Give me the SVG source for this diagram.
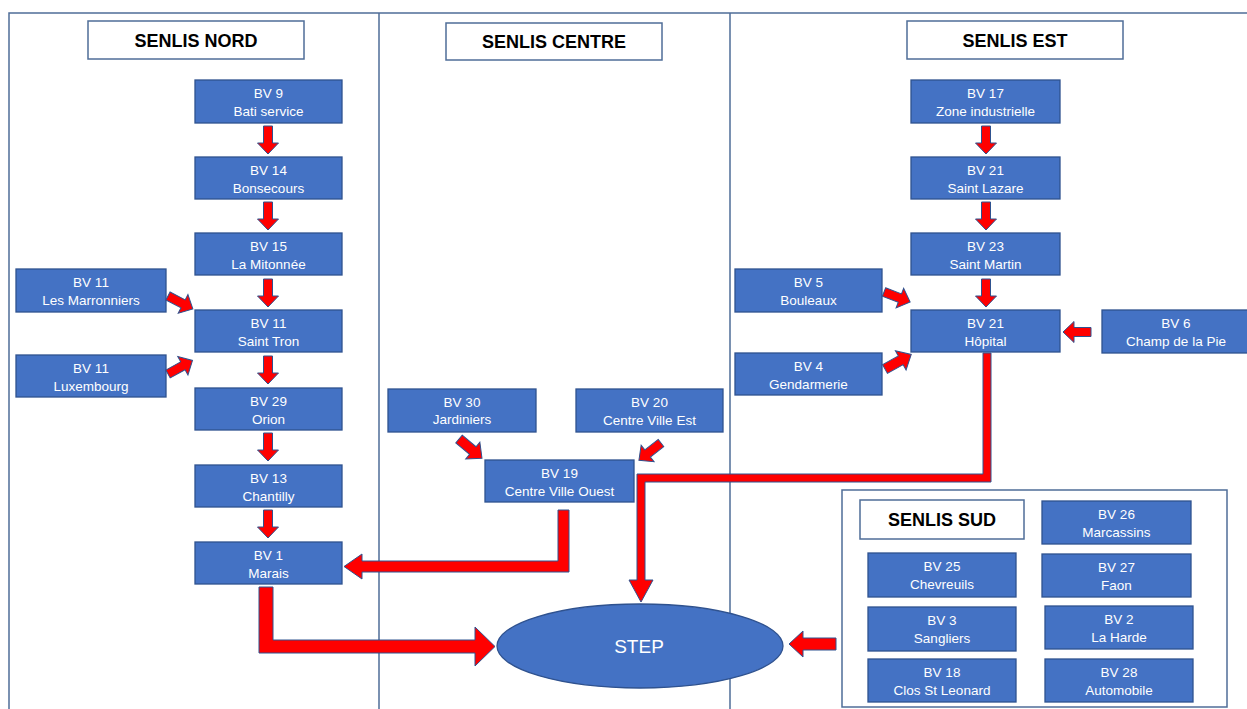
<svg xmlns="http://www.w3.org/2000/svg" width="1247" height="709" viewBox="0 0 1247 709">
<style>
.frame{fill:none;stroke:#4F6D98;stroke-width:1.5}
.hdr rect{fill:#fff;stroke:#4F6D98;stroke-width:1.5}
.hdr text{font-family:"Liberation Sans",Arial,sans-serif;font-weight:bold;font-size:18px;fill:#000;text-anchor:middle}
.bv rect{fill:#4472C4;stroke:#2F528F;stroke-width:1.3}
.bv text{font-family:"Liberation Sans",Arial,sans-serif;font-size:13.5px;fill:#fff;text-anchor:middle}
.arr{fill:#FF0000;stroke:#2F528F;stroke-width:1}
.step{fill:#4472C4;stroke:#2F528F;stroke-width:1.3}
.steptxt{font-family:"Liberation Sans",Arial,sans-serif;font-size:19px;fill:#fff;text-anchor:middle}
</style>
<defs>
<path id="a28" d="M0,-4.5 L17,-4.5 L17,-10.5 L28,0 L17,10.5 L17,4.5 L0,4.5 Z"/>
<path id="a30" d="M0,-5 L18,-5 L18,-11 L30,0 L18,11 L18,5 L0,5 Z"/>
</defs>
<rect width="1247" height="709" fill="#fff"/>
<g id="frame">
<path class="frame" d="M9,709 L9,13 L1247,13 M379,13 L379,709 M730,13 L730,709"/>
<rect class="frame" x="842" y="490" width="385" height="217"/>
</g>
<g id="h-nord" class="hdr"><rect x="88" y="21" width="216" height="38"/><text x="196" y="47">SENLIS NORD</text></g>
<g id="h-centre" class="hdr"><rect x="446" y="23" width="216" height="37"/><text x="554" y="48">SENLIS CENTRE</text></g>
<g id="h-est" class="hdr"><rect x="907" y="21" width="216" height="38"/><text x="1015" y="47">SENLIS EST</text></g>
<g id="h-sud" class="hdr"><rect x="860" y="500" width="164" height="39"/><text x="942" y="526">SENLIS SUD</text></g>

<g id="bv9" class="bv"><rect x="195" y="80" width="147" height="43"/><text x="268.5" y="98">BV 9</text><text x="268.5" y="116">Bati service</text></g>
<g id="bv14" class="bv"><rect x="195" y="157" width="147" height="42"/><text x="268.5" y="175">BV 14</text><text x="268.5" y="193">Bonsecours</text></g>
<g id="bv15" class="bv"><rect x="195" y="233" width="147" height="42"/><text x="268.5" y="251">BV 15</text><text x="268.5" y="269">La Mitonnée</text></g>
<g id="bv11st" class="bv"><rect x="195" y="310" width="147" height="42"/><text x="268.5" y="328">BV 11</text><text x="268.5" y="346">Saint Tron</text></g>
<g id="bv29" class="bv"><rect x="195" y="388" width="147" height="42"/><text x="268.5" y="406">BV 29</text><text x="268.5" y="424">Orion</text></g>
<g id="bv13" class="bv"><rect x="195" y="465" width="147" height="42"/><text x="268.5" y="483">BV 13</text><text x="268.5" y="501">Chantilly</text></g>
<g id="bv1" class="bv"><rect x="195" y="542" width="147" height="42"/><text x="268.5" y="560">BV 1</text><text x="268.5" y="578">Marais</text></g>
<g id="bv11m" class="bv"><rect x="16" y="269" width="150" height="43"/><text x="91" y="287">BV 11</text><text x="91" y="305">Les Marronniers</text></g>
<g id="bv11l" class="bv"><rect x="16" y="355" width="150" height="42"/><text x="91" y="373">BV 11</text><text x="91" y="391">Luxembourg</text></g>

<g id="bv30" class="bv"><rect x="388" y="389" width="148" height="43"/><text x="462" y="407">BV 30</text><text x="462" y="424">Jardiniers</text></g>
<g id="bv20" class="bv"><rect x="576" y="389" width="147" height="43"/><text x="649.5" y="407">BV 20</text><text x="649.5" y="425">Centre Ville Est</text></g>
<g id="bv19" class="bv"><rect x="485" y="460" width="149" height="42"/><text x="559.5" y="478">BV 19</text><text x="559.5" y="496">Centre Ville Ouest</text></g>

<g id="bv17" class="bv"><rect x="911" y="80" width="149" height="43"/><text x="985.5" y="98">BV 17</text><text x="985.5" y="116">Zone industrielle</text></g>
<g id="bv21sl" class="bv"><rect x="911" y="157" width="149" height="42"/><text x="985.5" y="175">BV 21</text><text x="985.5" y="193">Saint Lazare</text></g>
<g id="bv23" class="bv"><rect x="911" y="233" width="149" height="42"/><text x="985.5" y="251">BV 23</text><text x="985.5" y="269">Saint Martin</text></g>
<g id="bv21h" class="bv"><rect x="911" y="310" width="149" height="42"/><text x="985.5" y="328">BV 21</text><text x="985.5" y="346">Hôpital</text></g>
<g id="bv5" class="bv"><rect x="735" y="269" width="147" height="43"/><text x="808.5" y="287">BV 5</text><text x="808.5" y="305">Bouleaux</text></g>
<g id="bv4" class="bv"><rect x="735" y="353" width="147" height="42"/><text x="808.5" y="371">BV 4</text><text x="808.5" y="389">Gendarmerie</text></g>
<g id="bv6" class="bv"><rect x="1102" y="310" width="147" height="43"/><text x="1176" y="328">BV 6</text><text x="1176" y="346">Champ de la Pie</text></g>

<g id="bv26" class="bv"><rect x="1042" y="501" width="149" height="43"/><text x="1116.5" y="519">BV 26</text><text x="1116.5" y="537">Marcassins</text></g>
<g id="bv25" class="bv"><rect x="868" y="553" width="148" height="44"/><text x="942" y="571">BV 25</text><text x="942" y="589">Chevreuils</text></g>
<g id="bv27" class="bv"><rect x="1042" y="554" width="149" height="43"/><text x="1116.5" y="572">BV 27</text><text x="1116.5" y="590">Faon</text></g>
<g id="bv3" class="bv"><rect x="868" y="607" width="148" height="44"/><text x="942" y="625">BV 3</text><text x="942" y="643">Sangliers</text></g>
<g id="bv2" class="bv"><rect x="1045" y="606" width="148" height="43"/><text x="1119" y="624">BV 2</text><text x="1119" y="642">La Harde</text></g>
<g id="bv18" class="bv"><rect x="868" y="659" width="148" height="43"/><text x="942" y="677">BV 18</text><text x="942" y="695">Clos St Leonard</text></g>
<g id="bv28" class="bv"><rect x="1045" y="659" width="148" height="43"/><text x="1119" y="677">BV 28</text><text x="1119" y="695">Automobile</text></g>

<g id="step"><ellipse class="step" cx="640" cy="646" rx="143" ry="42"/><text class="steptxt" x="639" y="653">STEP</text></g>

<g id="connectors">
<use href="#a28" class="arr" transform="translate(268,126) rotate(90)"/>
<use href="#a28" class="arr" transform="translate(268,202) rotate(90)"/>
<use href="#a28" class="arr" transform="translate(268,279) rotate(90)"/>
<use href="#a28" class="arr" transform="translate(268,356) rotate(90)"/>
<use href="#a28" class="arr" transform="translate(268,433) rotate(90)"/>
<use href="#a28" class="arr" transform="translate(268,510) rotate(90)"/>
<use href="#a28" class="arr" transform="translate(986,126) rotate(90)"/>
<use href="#a28" class="arr" transform="translate(986,202) rotate(90)"/>
<use href="#a28" class="arr" transform="translate(986,279) rotate(90)"/>
<use href="#a28" class="arr" transform="translate(168,296) rotate(27.5)"/>
<use href="#a28" class="arr" transform="translate(168,374) rotate(-29)"/>
<use href="#a30" class="arr" transform="translate(459,439) rotate(40)"/>
<use href="#a28" class="arr" transform="translate(661,443) rotate(142)"/>
<use href="#a28" class="arr" transform="translate(884,292) rotate(21)"/>
<use href="#a30" class="arr" transform="translate(885,369) rotate(-29)"/>
<use href="#a28" class="arr" transform="translate(1091,332) rotate(180)"/>
<path class="arr" d="M558,510 L569,510 L569,572 L362,572 L362,579 L344,566.5 L362,554 L362,561 L558,561 Z"/>
<path class="arr" d="M259,587 L273,587 L273,640 L475,640 L475,627 L495,646.5 L475,666 L475,653 L259,653 Z"/>
<path class="arr" d="M983,353 L991,353 L991,482 L645,482 L645,580 L653,580 L641,602 L629,580 L637,580 L637,474 L983,474 Z"/>
<path class="arr" d="M836,638 L836,650 L803,650 L803,657 L789,644 L803,631 L803,638 Z"/>
</g>
</svg>
